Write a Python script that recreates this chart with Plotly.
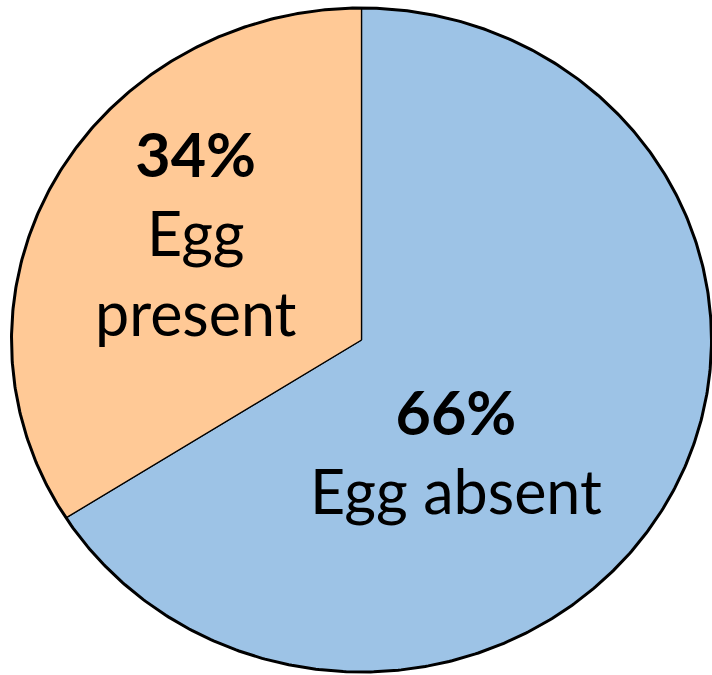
import numpy as np
import plotly.graph_objects as go

labels = ["Egg absent", "Egg present"]
values = [66, 34]
colors = ["#9DC3E6", "#FFC996"]

W, H = 712, 675
# pixel geometry of the (horizontally stretched) pie
cx_px, cy_px, rx_px, ry_px = 361.5, 340.0, 350.0, 332.0
xr = [-cx_px / rx_px, (W - cx_px) / rx_px]
yr = [-(H - cy_px) / ry_px, cy_px / ry_px]

fig = go.Figure()
total = sum(values)
start = 90.0
for lab, val, col in zip(labels, values, colors):
    sweep = 360.0 * val / total
    ang = np.radians(np.linspace(start, start - sweep, 200))
    xs = np.concatenate([[0], np.cos(ang), [0]])
    ys = np.concatenate([[0], np.sin(ang), [0]])
    fig.add_trace(go.Scatter(x=xs, y=ys, fill="toself", fillcolor=col, mode="lines",
                             line=dict(color="black", width=1.3), name=lab,
                             hoverinfo="name", showlegend=False))
    start -= sweep

t = np.radians(np.linspace(0, 360, 721))
fig.add_trace(go.Scatter(x=np.cos(t), y=np.sin(t), mode="lines",
                         line=dict(color="black", width=3), hoverinfo="skip", showlegend=False))

font = dict(family="Lato, Noto Sans, sans-serif", size=61, color="black")

def ann(text, px, py):
    fig.add_annotation(x=px / W, y=1 - py / H, xref="paper", yref="paper",
                       text=text, showarrow=False, font=font, align="center",
                       xanchor="center", yanchor="middle")

ann(f"<b>{values[1]}%</b><br>Egg<br>present", 196, 233)
ann(f"<b>{values[0]}%</b><br>{labels[0]}", 456, 451)

fig.update_xaxes(range=xr, visible=False, fixedrange=True)
fig.update_yaxes(range=yr, visible=False, fixedrange=True)
fig.update_layout(width=W, height=H, margin=dict(l=0, r=0, t=0, b=0),
                  plot_bgcolor="white", paper_bgcolor="white")
fig.write_html("out.html", config={"displayModeBar": False},
               post_script="document.body.style.margin='0';"
                           "document.documentElement.style.overflow='hidden';"
                           "document.body.style.overflow='hidden';")
